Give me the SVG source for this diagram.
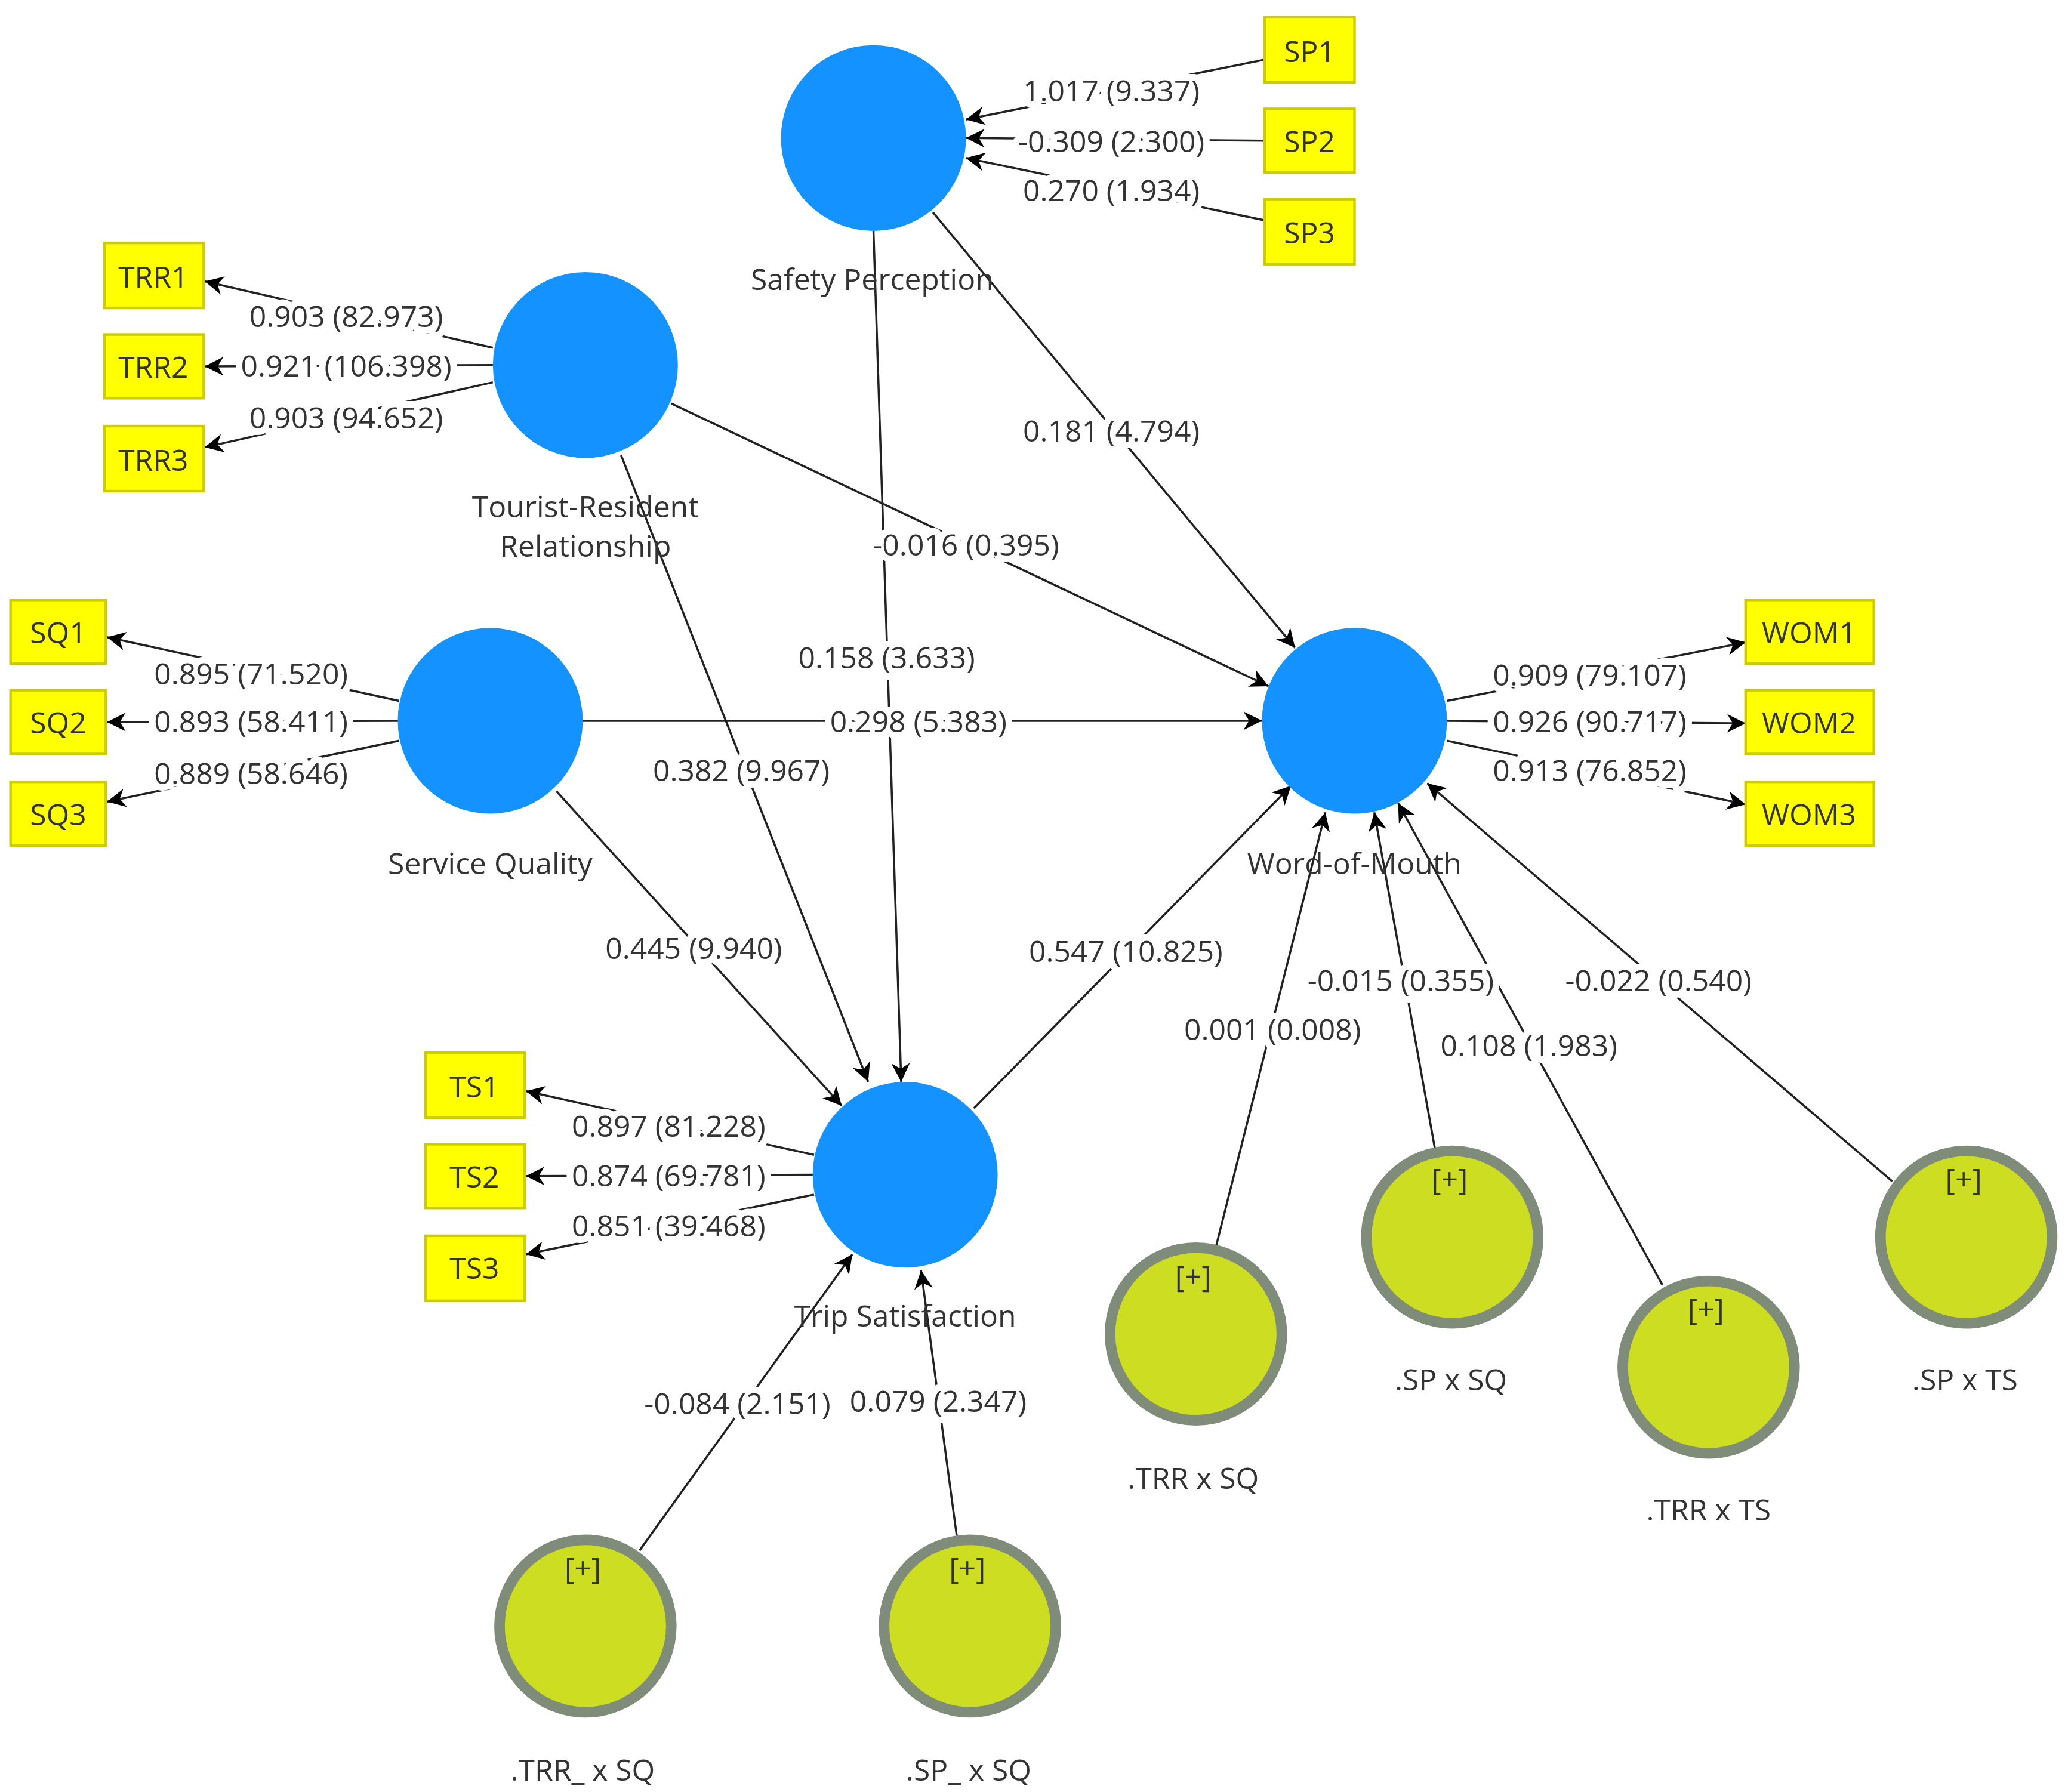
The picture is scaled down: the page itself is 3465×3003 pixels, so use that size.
<svg xmlns="http://www.w3.org/2000/svg" width="3465" height="3003" viewBox="0 0 3465 3003">
<defs>
<marker id="ah" viewBox="0 0 10 10" refX="10" refY="5" markerWidth="14" markerHeight="14" markerUnits="userSpaceOnUse" orient="auto"><path d="M0,0 L10,5 L0,10 L3,5 z" fill="#000"/></marker>
</defs>
<style>
.lv{fill:#1492FF}
.mod{fill:#CCDD22;stroke:#7F8C7A;stroke-width:8}
.ind rect{fill:#FFFF00;stroke:#CCCC00;stroke-width:2}
text{font-family:"Open Sans","Liberation Sans",sans-serif;font-size:22.5px;fill:#333;text-anchor:middle;dominant-baseline:central}
.lab{paint-order:stroke;stroke:#fff;stroke-width:10px;stroke-linejoin:round}
.c line{stroke:#222;stroke-width:1.6;marker-end:url(#ah)}
</style>
<rect width="3465" height="3003" fill="#fff"/>
<g transform="scale(2.2141,2.2244)">
<g class="c" id="connectors">
<line x1="706" y1="160" x2="980" y2="488"/>
<line x1="661" y1="174" x2="682" y2="815"/>
<line x1="508" y1="304" x2="960" y2="517"/>
<line x1="470" y1="343" x2="657" y2="815"/>
<line x1="441" y1="543" x2="955" y2="543"/>
<line x1="421" y1="596" x2="637" y2="833"/>
<line x1="737" y1="835" x2="977" y2="592"/>
<line x1="920" y1="940" x2="1003" y2="612"/>
<line x1="1086" y1="866" x2="1040" y2="612"/>
<line x1="1258" y1="968" x2="1058" y2="605"/>
<line x1="1432" y1="890" x2="1080" y2="590"/>
<line x1="484" y1="1168" x2="645" y2="945"/>
<line x1="724" y1="1157" x2="697" y2="957"/>
<line x1="957" y1="45" x2="731" y2="90"/>
<line x1="957" y1="106" x2="731" y2="104"/>
<line x1="957" y1="166" x2="731" y2="119"/>
<line x1="373" y1="262" x2="155" y2="212"/>
<line x1="373" y1="275" x2="155" y2="276"/>
<line x1="373" y1="288" x2="155" y2="337"/>
<line x1="302" y1="528" x2="81" y2="480"/>
<line x1="302" y1="543" x2="81" y2="544"/>
<line x1="302" y1="558" x2="81" y2="604"/>
<line x1="616" y1="870" x2="398" y2="822"/>
<line x1="616" y1="885" x2="398" y2="886"/>
<line x1="616" y1="900" x2="398" y2="945"/>
<line x1="1095" y1="528" x2="1321" y2="484"/>
<line x1="1095" y1="543" x2="1321" y2="545"/>
<line x1="1095" y1="558" x2="1321" y2="606"/>
</g>
<g id="labels">
<text class="lab" x="841" y="324">0.181 (4.794)</text>
<text class="lab" x="671" y="495">0.158 (3.633)</text>
<text class="lab" x="731" y="410">-0.016 (0.395)</text>
<text class="lab" x="561" y="580">0.382 (9.967)</text>
<text class="lab" x="695" y="543">0.298 (5.383)</text>
<text class="lab" x="525" y="714">0.445 (9.940)</text>
<text class="lab" x="852" y="716">0.547 (10.825)</text>
<text class="lab" x="963" y="775">0.001 (0.008)</text>
<text class="lab" x="1060" y="738">-0.015 (0.355)</text>
<text class="lab" x="1157" y="787">0.108 (1.983)</text>
<text class="lab" x="1255" y="738">-0.022 (0.540)</text>
<text class="lab" x="558" y="1057">-0.084 (2.151)</text>
<text class="lab" x="710" y="1055">0.079 (2.347)</text>
<text class="lab" x="841" y="68">1.017 (9.337)</text>
<text class="lab" x="841" y="106">-0.309 (2.300)</text>
<text class="lab" x="841" y="143">0.270 (1.934)</text>
<text class="lab" x="262" y="238">0.903 (82.973)</text>
<text class="lab" x="262" y="275">0.921 (106.398)</text>
<text class="lab" x="262" y="314">0.903 (94.652)</text>
<text class="lab" x="190" y="507">0.895 (71.520)</text>
<text class="lab" x="190" y="543">0.893 (58.411)</text>
<text class="lab" x="190" y="582">0.889 (58.646)</text>
<text class="lab" x="506" y="848">0.897 (81.228)</text>
<text class="lab" x="506" y="885">0.874 (69.781)</text>
<text class="lab" x="506" y="923">0.851 (39.468)</text>
<text class="lab" x="1203" y="508">0.909 (79.107)</text>
<text class="lab" x="1203" y="543">0.926 (90.717)</text>
<text class="lab" x="1203" y="580">0.913 (76.852)</text>
</g>
<g id="SP"><circle class="lv" cx="661" cy="104" r="70"/><text x="660" y="210">Safety Perception</text></g>
<g id="TRR"><circle class="lv" cx="443" cy="275" r="70"/><text x="443" y="381">Tourist-Resident</text><text x="443" y="411">Relationship</text></g>
<g id="SQ"><circle class="lv" cx="371" cy="543" r="70"/><text x="371" y="650">Service Quality</text></g>
<g id="WOM"><circle class="lv" cx="1025" cy="543" r="70"/><text x="1025" y="650">Word-of-Mouth</text></g>
<g id="TS"><circle class="lv" cx="685" cy="885" r="70"/><text x="685" y="991">Trip Satisfaction</text></g>
<g id="TRRxSQ"><circle class="mod" cx="905" cy="1005" r="65"/><text x="903" y="961">[+]</text><text x="903" y="1113">.TRR x SQ</text></g>
<g id="SPxSQ"><circle class="mod" cx="1099" cy="932" r="65"/><text x="1097" y="888">[+]</text><text x="1098" y="1039">.SP x SQ</text></g>
<g id="TRRxTS"><circle class="mod" cx="1293" cy="1030" r="65"/><text x="1291" y="986">[+]</text><text x="1293" y="1137">.TRR x TS</text></g>
<g id="SPxTS"><circle class="mod" cx="1488" cy="932" r="65"/><text x="1486" y="888">[+]</text><text x="1487" y="1039">.SP x TS</text></g>
<g id="TRR_xSQ"><circle class="mod" cx="443" cy="1225" r="65"/><text x="441" y="1181">[+]</text><text x="441" y="1333">.TRR_ x SQ</text></g>
<g id="SP_xSQ"><circle class="mod" cx="734" cy="1225" r="65"/><text x="732" y="1181">[+]</text><text x="733" y="1333">.SP_ x SQ</text></g>
<g id="SP1" class="ind"><rect x="957" y="13" width="68" height="49"/><text x="991" y="38">SP1</text></g>
<g id="SP2" class="ind"><rect x="957" y="82" width="68" height="48"/><text x="991" y="106">SP2</text></g>
<g id="SP3" class="ind"><rect x="957" y="150" width="68" height="49"/><text x="991" y="175">SP3</text></g>
<g id="TRR1" class="ind"><rect x="79" y="183" width="75" height="49"/><text x="116" y="208">TRR1</text></g>
<g id="TRR2" class="ind"><rect x="79" y="252" width="75" height="48"/><text x="116" y="276">TRR2</text></g>
<g id="TRR3" class="ind"><rect x="79" y="321" width="75" height="49"/><text x="116" y="346">TRR3</text></g>
<g id="SQ1" class="ind"><rect x="8" y="452" width="72" height="48"/><text x="44" y="476">SQ1</text></g>
<g id="SQ2" class="ind"><rect x="8" y="520" width="72" height="48"/><text x="44" y="544">SQ2</text></g>
<g id="SQ3" class="ind"><rect x="8" y="589" width="72" height="48"/><text x="44" y="613">SQ3</text></g>
<g id="WOM1" class="ind"><rect x="1321" y="452" width="97" height="48"/><text x="1369" y="476">WOM1</text></g>
<g id="WOM2" class="ind"><rect x="1321" y="520" width="97" height="48"/><text x="1369" y="544">WOM2</text></g>
<g id="WOM3" class="ind"><rect x="1321" y="589" width="97" height="48"/><text x="1369" y="613">WOM3</text></g>
<g id="TS1" class="ind"><rect x="322" y="793" width="75" height="49"/><text x="359" y="818">TS1</text></g>
<g id="TS2" class="ind"><rect x="322" y="862" width="75" height="48"/><text x="359" y="886">TS2</text></g>
<g id="TS3" class="ind"><rect x="322" y="931" width="75" height="49"/><text x="359" y="955">TS3</text></g>
</g>
</svg>
